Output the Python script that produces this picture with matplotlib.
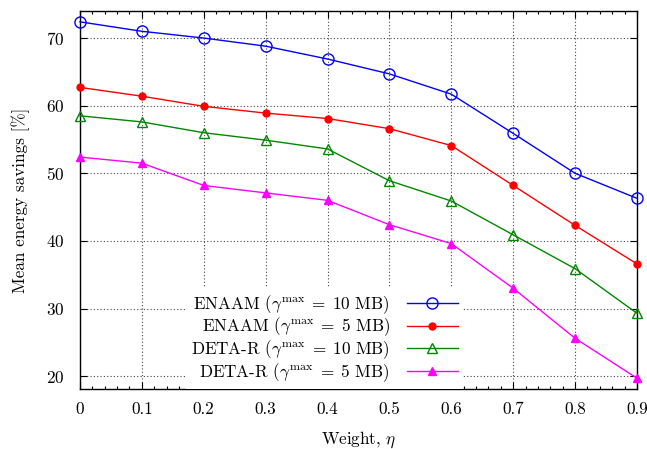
import matplotlib
matplotlib.use("Agg")
import matplotlib.pyplot as plt
from matplotlib.ticker import MultipleLocator

plt.rcParams['font.family'] = 'serif'
plt.rcParams['font.serif'] = ['cmr10']
plt.rcParams['mathtext.fontset'] = 'cm'
plt.rcParams['axes.formatter.use_mathtext'] = True
plt.rcParams['font.size'] = 12.3

# Data
weights = [0.0, 0.1, 0.2, 0.3, 0.4, 0.5, 0.6, 0.7, 0.8, 0.9]
enaam_10 = [72.4, 71.0, 70.0, 68.8, 66.9, 64.7, 61.7, 55.9, 50.0, 46.3]
enaam_5 = [62.7, 61.4, 59.9, 58.9, 58.1, 56.6, 54.1, 48.2, 42.3, 36.6]
deta_10 = [58.5, 57.6, 56.0, 54.9, 53.6, 48.9, 45.9, 40.9, 35.9, 29.3]
deta_5 = [52.4, 51.5, 48.2, 47.1, 46.0, 42.4, 39.6, 33.0, 25.6, 19.7]

labels = [
    r'ENAAM ($\gamma^{\mathrm{max}}\;=\;10$ MB)',
    r'ENAAM ($\gamma^{\mathrm{max}}\;=\;5$ MB)',
    r'DETA-R ($\gamma^{\mathrm{max}}\;=\;10$ MB)',
    r'DETA-R ($\gamma^{\mathrm{max}}\;=\;5$ MB)',
]
tick_labels = ['0', '0.1', '0.2', '0.3', '0.4', '0.5', '0.6', '0.7', '0.8', '0.9']

fig = plt.figure(figsize=(6.47, 4.49), dpi=100)
ax = fig.add_axes([0.1236, 0.1336, 0.8609, 0.8419])

ax.plot(weights, enaam_10, color='#0000ff', lw=1.0, marker='o', ms=8,
        mfc='none', mew=1.0, label=labels[0], clip_on=False, zorder=3)
ax.plot(weights, enaam_5, color='#ff0000', lw=1.0, marker='o', ms=5,
        label=labels[1], clip_on=False, zorder=3)
ax.plot(weights, deta_10, color='#008800', lw=1.0, marker='^', ms=7,
        mfc='none', mew=1.0, label=labels[2], clip_on=False, zorder=3)
ax.plot(weights, deta_5, color='#ff00ff', lw=1.0, marker='^', ms=6,
        label=labels[3], clip_on=False, zorder=3)

ax.set_xlim(0, 0.9)
ax.set_ylim(18.1, 74)
ax.xaxis.set_minor_locator(MultipleLocator(0.02))
ax.yaxis.set_major_locator(MultipleLocator(10))
ax.set_xticks(weights)
ax.set_xticklabels(tick_labels)

ax.tick_params(which='both', direction='in', top=True, right=True)
ax.tick_params(which='major', length=5, width=0.8)
ax.tick_params(axis='x', which='major', pad=9)
ax.tick_params(axis='y', which='major', pad=11)
ax.tick_params(which='minor', length=2.5, width=0.8)
for s in ax.spines.values():
    s.set_linewidth(1.0)

ax.grid(True, which='major', linestyle=(0, (1, 2)), color='#444444', lw=0.8)
ax.set_axisbelow(True)

ax.set_xlabel(r'Weight, $\eta$', labelpad=9)
ax.set_ylabel('Mean energy savings [%]', labelpad=12)

leg = ax.legend(loc='lower right', bbox_to_anchor=(0.688, 0.0),
                markerfirst=False, frameon=True, fancybox=False,
                edgecolor='none', facecolor='white', framealpha=1.0,
                borderaxespad=0.0, borderpad=0.3, handlelength=3.0,
                handletextpad=1.0, labelspacing=0.0)
leg.set_zorder(2.5)

fig.savefig('out.png', dpi=100)
